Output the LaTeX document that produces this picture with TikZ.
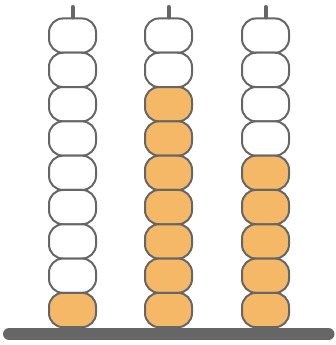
\documentclass[tikz,border=0pt]{standalone}
\usepackage{xcolor}
\usepackage{tikz}
\usetikzlibrary{calc,positioning}
\definecolor{framegray}{HTML}{666666}
\definecolor{beadorange}{HTML}{F4B866}
\tikzset{
  bead/.style={draw=framegray,fill=white,line width=2pt,rounded corners=14pt,minimum width=47pt,minimum height=34.3pt,inner sep=0pt},
  beadon/.style={bead,fill=beadorange},
  rod/.style={framegray,line width=4pt,line cap=round},
  basebar/.style={framegray,line width=12pt,line cap=round}
}
\begin{document}
\begin{tikzpicture}[x=1pt,y=-1pt]
  \useasboundingbox (0,0) rectangle (335,345);
  % rods with their beads, counted from the top
  \foreach \col/\xc/\lit in {1/72.5/1,2/168.5/7,3/265.5/5}{
    \foreach \i in {1,...,9}{
      \pgfmathsetmacro{\yc}{35.6+(\i-1)*34.3}
      \ifnum\i>\numexpr9-\lit\relax
        \node[beadon] (b\col-\i) at (\xc,\yc) {};
      \else
        \node[bead] (b\col-\i) at (\xc,\yc) {};
      \fi
    }
    \coordinate (top\col) at (\xc,7);
    \draw[rod] (top\col) -- (b\col-1.north);
  }
  \coordinate (baseL) at (9,334);
  \coordinate (baseR) at (328.5,334);
  \draw[basebar] (baseL) -- (baseR);
\end{tikzpicture}
\end{document}
